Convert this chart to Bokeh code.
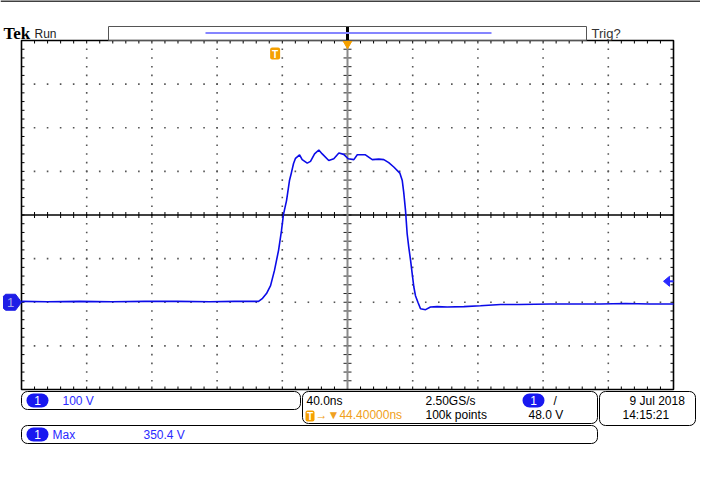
import numpy as np
from bokeh.plotting import figure
from bokeh.models import Range1d, Label, BoxAnnotation
from bokeh.embed import file_html
from bokeh.resources import INLINE

TIME_NS = [-155.6, -140, -120, -100, -80, -60, -40, -25, -10.2, -7.7, -5.3, -2.8, -0.4,
           2.1, 3.9, 5.1, 7.0, 8.8, 10.0, 11.3, 12.5, 15.0, 16.6, 19.7, 21.7, 24.2, 26.8,
           28.9, 32.9, 36.0, 39.1, 42.1, 44.8, 48.3, 50.4, 55.4, 59.6, 63.6, 66.7, 69.7,
           72.8, 76.5, 78.0, 78.9, 80.0, 81.0, 82.0, 83.1, 84.1, 85.1, 86.1, 87.6, 89.2,
           92.3, 95.3, 99.4, 105.6, 115.8, 126.0, 138.3, 150, 168.9, 185, 199.6, 215, 230,
           244.4]
VOLTS = [2, 1, 2, 1, 2, 2, 1, 2, 2, 9, 20, 38, 73,
         119, 164, 201, 233, 279, 297, 318, 330, 338, 327, 319, 323, 340, 349,
         340, 325, 329, 342, 339, 329, 327, 338, 338, 327, 328, 327, 320,
         310, 296, 279, 252, 210, 157, 126, 96, 65, 35, 15, 0, -15,
         -17, -11, -10, -11, -10, -8, -5, -5, -4, -4, -4, -3, -4,
         -4]

TIME_PER_DIV_NS = 40.0
VOLTS_PER_DIV = 100.0
H_DIVS, V_DIVS = 10, 8
TRIGGER_TO_CENTER_NS = 44.4
GROUND_DIVS_BELOW_CENTER = 2
TRIGGER_LEVEL_V = 48.0

CH1_SCALE_TEXT = "100 V"
TIMEBASE_TEXT = "40.0ns"
SAMPLE_RATE_TEXT = "2.50GS/s"
RECORD_TEXT = "100k points"
TRIG_POS_TEXT = "\u2192\u25bc44.40000ns"
TRIG_LEVEL_TEXT = "48.0 V"
DATE_TEXT = "9 Jul  2018"
CLOCK_TEXT = "14:15:21"
MEAS_NAME = "Max"
MEAS_VALUE = "350.4 V"

# ---------------- layout ----------------
W, H, OFF = 700, 486, 0
GX0, GX1, GY0, GY1 = 21, 673, 40, 389
TPP = H_DIVS * TIME_PER_DIV_NS / (GX1 - GX0)
VPP = V_DIVS * VOLTS_PER_DIV / (GY1 - GY0)
T_LEFT = TRIGGER_TO_CENTER_NS - H_DIVS / 2 * TIME_PER_DIV_NS
T_RIGHT = T_LEFT + H_DIVS * TIME_PER_DIV_NS
V_TOP = (V_DIVS / 2 + GROUND_DIVS_BELOW_CENTER) * VOLTS_PER_DIV
V_BOT = V_TOP - V_DIVS * VOLTS_PER_DIV
V_CEN = (V_TOP + V_BOT) / 2


def X(px):
    return T_LEFT + (px - GX0) * TPP


def Y(py):
    return V_TOP - (py - GY0) * VPP


p = figure(width=W, height=H, x_range=Range1d(X(OFF), X(OFF + W)),
           y_range=Range1d(Y(OFF + H), Y(OFF)), toolbar_location=None,
           output_backend="svg", min_border=0, x_axis_location=None,
           y_axis_location=None, title=None)
p.grid.visible = False
p.outline_line_color = None
p.background_fill_color = "white"
p.border_fill_color = "white"

# top rule of the screen
p.line([X(0), X(W)], [Y(0.5)] * 2, line_color="black", line_width=1.5)

# ---------------- graticule ----------------
sub_t = TIME_PER_DIV_NS / 5
sub_v = VOLTS_PER_DIV / 5
dx, dy = [], []
for k in range(1, V_DIVS):
    v = V_BOT + k * VOLTS_PER_DIV
    if abs(v - V_CEN) < 1e-6:
        continue
    for i in range(1, H_DIVS * 5):
        dx.append(T_LEFT + i * sub_t); dy.append(v)
for k in range(1, H_DIVS):
    t = T_LEFT + k * TIME_PER_DIV_NS
    if abs(t - TRIGGER_TO_CENTER_NS) < 1e-6:
        continue
    for j in range(1, V_DIVS * 5):
        dx.append(t); dy.append(V_BOT + j * sub_v)
p.scatter(dx, dy, marker="square", size=1.6, fill_color="#555555", line_color=None)

tl = 3
tx = [T_LEFT + i * sub_t for i in range(1, H_DIVS * 5)]
tv = [V_BOT + j * sub_v for j in range(1, V_DIVS * 5)]
p.segment(x0=tx, x1=tx, y0=[V_TOP] * len(tx), y1=[V_TOP - tl * VPP] * len(tx), line_color="black", line_width=1)
p.segment(x0=tx, x1=tx, y0=[V_BOT] * len(tx), y1=[V_BOT + tl * VPP] * len(tx), line_color="black", line_width=1)
p.segment(x0=[T_LEFT] * len(tv), x1=[T_LEFT + tl * TPP] * len(tv), y0=tv, y1=tv, line_color="black", line_width=1)
p.segment(x0=[T_RIGHT] * len(tv), x1=[T_RIGHT - tl * TPP] * len(tv), y0=tv, y1=tv, line_color="black", line_width=1)
p.segment(x0=tx, x1=tx, y0=[V_CEN - tl * VPP] * len(tx), y1=[V_CEN + tl * VPP] * len(tx), line_color="black", line_width=1)
p.segment(x0=[TRIGGER_TO_CENTER_NS - 4 * TPP] * len(tv), x1=[TRIGGER_TO_CENTER_NS + 4 * TPP] * len(tv),
          y0=tv, y1=tv, line_color="#222222", line_width=1)
p.line([T_LEFT, T_RIGHT], [V_CEN, V_CEN], line_color="black", line_width=1.6)
p.line([TRIGGER_TO_CENTER_NS] * 2, [V_BOT, V_TOP], line_color="#8a8a8a", line_width=2)
p.quad(left=[T_LEFT], right=[T_RIGHT], bottom=[V_BOT], top=[V_TOP], fill_color=None,
       line_color="black", line_width=1.6)

# ---------------- waveform ----------------
p.line(TIME_NS, VOLTS, line_color="#0b0be8", line_width=1.6)

# ---------------- markers ----------------
gx = [X(5), X(15), X(21), X(15), X(5), X(3), X(3)]
gy = [8 * VPP, 8 * VPP, 0, -8 * VPP, -8 * VPP, -6 * VPP, 6 * VPP]
p.patch(gx, gy, fill_color="#1e1ee6", line_color="#1e1ee6")
p.patch([X(663), X(669), X(669)],
        [TRIGGER_LEVEL_V, TRIGGER_LEVEL_V + 5 * VPP, TRIGGER_LEVEL_V - 5 * VPP],
        fill_color="#2a2aff", line_color="#2a2aff")
p.line([X(669), T_RIGHT], [TRIGGER_LEVEL_V] * 2, line_color="#2a2aff", line_width=2)
p.line([TRIGGER_TO_CENTER_NS] * 2, [Y(26), Y(40)], line_color="black", line_width=3)
p.scatter([TRIGGER_TO_CENTER_NS], [Y(43)], marker="inverted_triangle", size=9,
          fill_color="#f5a000", line_color="#f5a000")
p.line([X(205), X(491)], [Y(32.5)] * 2, line_color="#8585ff", line_width=2)


def box(x0, x1, y0, y1, fill=None, line="black", lw=1, r=0, left=None, right=None):
    p.add_layout(BoxAnnotation(left=X(x0) if left is None else left,
                               right=X(x1) if right is None else right,
                               top=Y(y0), bottom=Y(y1),
                               fill_color=fill, fill_alpha=1 if fill else 0,
                               line_color=line, line_alpha=1 if line else 0,
                               line_width=lw, border_radius=r))


def lab(px, py, text, color="black", size=12, align="left", font="Liberation Sans",
        style="normal", baseline="middle", xdata=None):
    p.add_layout(Label(x=X(px) if xdata is None else xdata, y=Y(py), text=text,
                       text_color=color, text_font_size=f"{size}px", text_align=align,
                       text_baseline=baseline, text_font=font, text_font_style=style))


box(108, 586, 26, 40, line="#555555", lw=1)
box(0, 0, 47, 59, fill="#f5a000", line=None, r=2, left=-5 * TPP, right=5 * TPP)

box(21, 300, 391, 409, r=6)
box(302, 597, 391, 423, r=6)
box(599, 695, 391, 425, r=6)
box(21, 597, 425, 443, r=6)
box(26, 48, 393, 407, fill="#1818f0", line=None, r=7)
box(522, 544, 393, 407, fill="#1818f0", line=None, r=7)
box(26, 48, 427, 441, fill="#1818f0", line=None, r=7)
box(305, 314, 410, 421, fill="#f5a000", line=None, r=2)

# ---------------- texts ----------------
lab(3, 33, "Tek", font="Liberation Serif", size=17, style="bold")
lab(34, 33, "Run", size=12, color="#222222")
lab(591, 33, "Trig?", size=13, color="#333333")
lab(0, 53.5, "T", color="white", size=10, style="bold", align="center", xdata=0)
lab(10, 302, "1", color="#a8a8e8", size=13, align="center")

lab(37, 400, "1", color="white", size=12, align="center")
lab(62, 400, CH1_SCALE_TEXT, color="#2a2aff")
lab(306, 400, TIMEBASE_TEXT)
lab(309.5, 415.5, "T", color="white", size=10, style="bold", align="center")
lab(315, 414, TRIG_POS_TEXT, color="#f0a020")
lab(425, 400, SAMPLE_RATE_TEXT)
lab(425, 414, RECORD_TEXT)
lab(533, 400, "1", color="white", size=12, align="center")
lab(553, 400, "/")
lab(528, 414, TRIG_LEVEL_TEXT)
lab(629, 400, DATE_TEXT)
lab(622, 414, CLOCK_TEXT)
lab(37, 434, "1", color="white", size=12, align="center")
lab(52, 434, MEAS_NAME, color="#2a2aff")
lab(143, 434, MEAS_VALUE, color="#2a2aff")

open("out.html", "w").write(file_html(p, INLINE))
